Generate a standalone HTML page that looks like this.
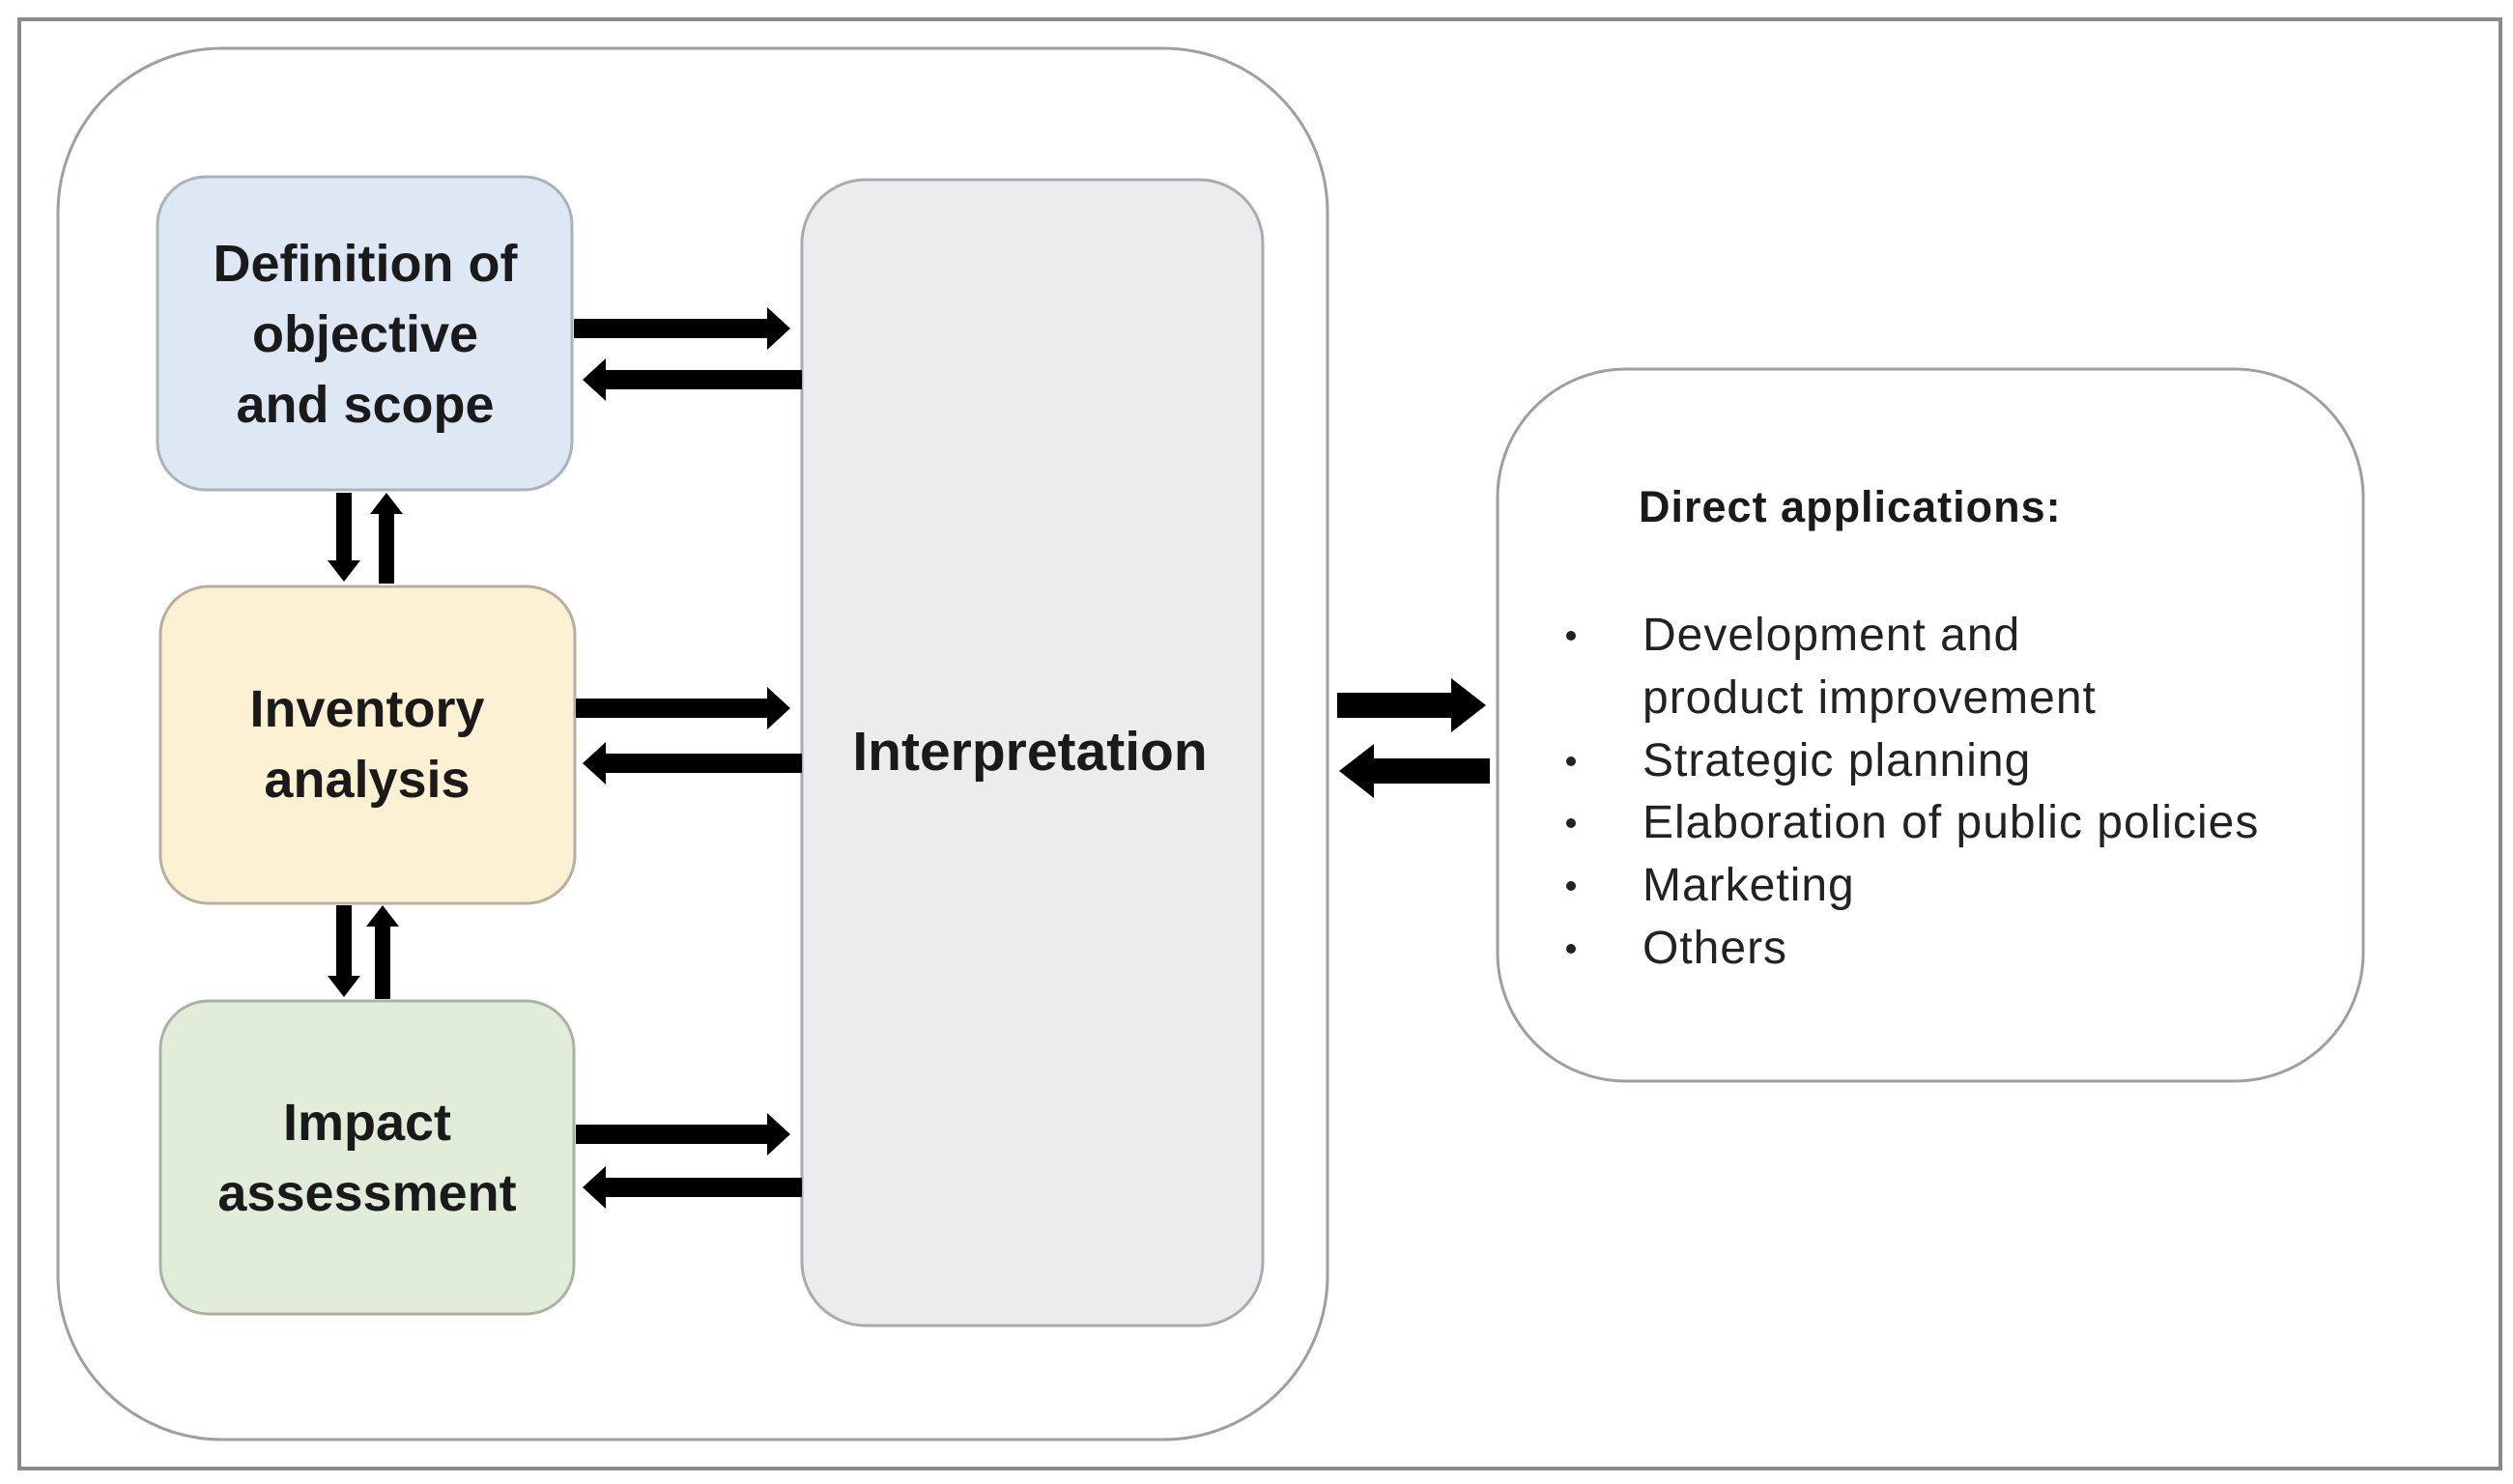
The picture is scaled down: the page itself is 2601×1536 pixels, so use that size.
<!DOCTYPE html>
<html><head><meta charset="utf-8"><style>
html,body{margin:0;padding:0;background:#fff;}
svg{display:block;}
text{font-family:"Liberation Sans",sans-serif;}
</style></head><body>
<svg width="2601" height="1536" viewBox="0 0 2601 1536" xmlns="http://www.w3.org/2000/svg">
<rect x="20" y="20" width="2568" height="1500" fill="#fff" stroke="#8a8a8a" stroke-width="4"/>
<rect x="60" y="50" width="1314" height="1440" rx="170" fill="#fff" stroke="#9aa0a6" stroke-width="3"/>
<rect x="163" y="183" width="429" height="324" rx="50" fill="#dde8f4" stroke="#a9b3bd" stroke-width="3"/>
<rect x="166" y="607" width="429" height="328" rx="50" fill="#fdf1d4" stroke="#b6b0a0" stroke-width="3"/>
<rect x="166" y="1036" width="428" height="324" rx="50" fill="#e1ecd9" stroke="#a9b3a4" stroke-width="3"/>
<rect x="830" y="186" width="477" height="1186" rx="66" fill="#ececee" stroke="#a9abb0" stroke-width="3"/>
<rect x="1550" y="382" width="896" height="737" rx="133" fill="#fff" stroke="#9aa0a6" stroke-width="3"/>

<g fill="#000">
<polygon points="594,330 794,330 794,318 818,340 794,362 794,350 594,350"/>
<polygon points="830,383 627,383 627,371 603,393 627,415 627,403 830,403"/>
<polygon points="596,723 794,723 794,711 818,733 794,755 794,743 596,743"/>
<polygon points="830,780 627,780 627,768 603,790 627,812 627,800 830,800"/>
<polygon points="596,1164 794,1164 794,1152 818,1174 794,1196 794,1184 596,1184"/>
<polygon points="830,1219 627,1219 627,1207 603,1229 627,1251 627,1239 830,1239"/>
<polygon points="348,510 364,510 364,580 373,580 356,602 339,580 348,580"/>
<polygon points="392,604 408,604 408,532 417,532 400,510 383,532 392,532"/>
<polygon points="348,937 364,937 364,1010 373,1010 356,1032 339,1010 348,1010"/>
<polygon points="388,1034 404,1034 404,959 413,959 396,937 379,959 388,959"/>
<polygon points="1384,717 1502,717 1502,702 1538,730 1502,758 1502,743 1384,743"/>
<polygon points="1542,785 1422,785 1422,770 1386,798 1422,826 1422,811 1542,811"/>
</g>

<g font-weight="bold" font-size="54" fill="#1a1a1a" text-anchor="middle">
<text x="378" y="291">Definition of</text>
<text x="378" y="364">objective</text>
<text x="378" y="437">and scope</text>
<text x="380" y="752">Inventory</text>
<text x="380" y="825">analysis</text>
<text x="380" y="1180">Impact</text>
<text x="380" y="1253">assessment</text>
<text x="1066" y="797" font-size="57">Interpretation</text>
</g>
<text x="1696" y="540" font-weight="bold" font-size="45" letter-spacing="1" fill="#1a1a1a">Direct applications:</text>
<g font-size="48" letter-spacing="1" fill="#222">
<text x="1700" y="673">Development and</text>
<text x="1700" y="738">product improvement</text>
<text x="1700" y="803">Strategic planning</text>
<text x="1700" y="867">Elaboration of public policies</text>
<text x="1700" y="932">Marketing</text>
<text x="1700" y="997">Others</text>
</g>
<g fill="#222">
<circle cx="1626" cy="658" r="5"/>
<circle cx="1626" cy="788" r="5"/>
<circle cx="1626" cy="852" r="5"/>
<circle cx="1626" cy="917" r="5"/>
<circle cx="1626" cy="982" r="5"/>
</g>
</svg>
</body></html>
